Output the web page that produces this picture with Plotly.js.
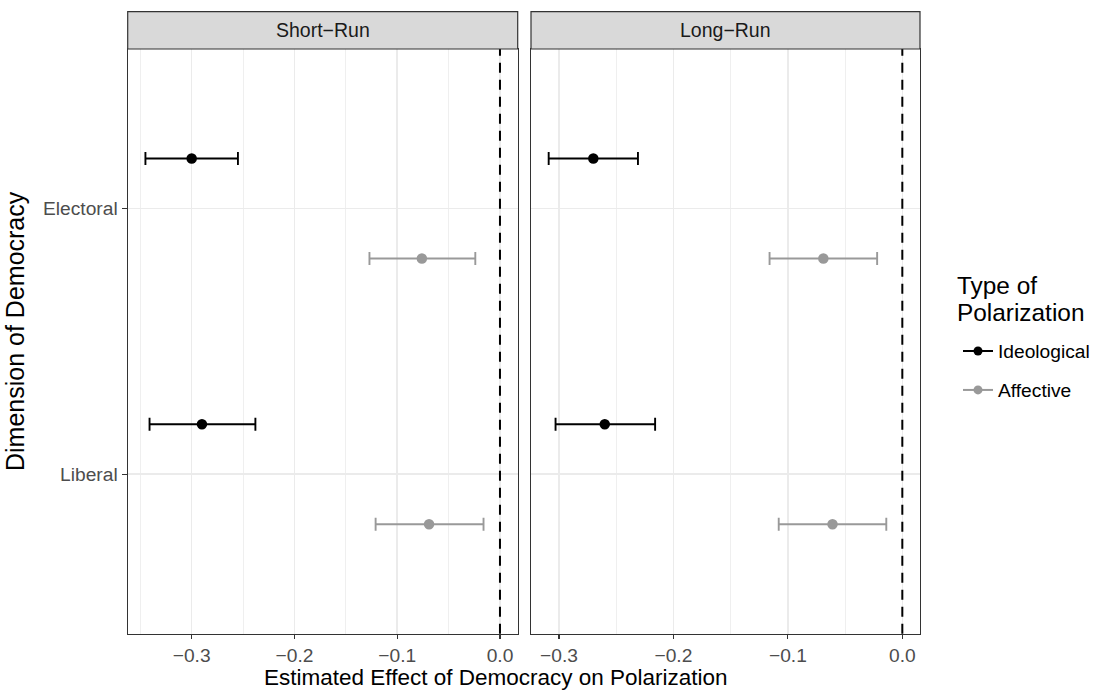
<!DOCTYPE html>
<html>
<head>
<meta charset="utf-8">
<script src="https://cdn.plot.ly/plotly-3.0.1.min.js"></script>
<style>html,body{margin:0;padding:0;background:#fff}#chart{width:1104px;height:690px}</style>
</head>
<body>
<div id="chart"></div>
<script>
// ---- data ----
const dimensions = ['Electoral', 'Liberal'];
const dimensionPos = [2, 1];
const panels = ['Short\u2212Run', 'Long\u2212Run'];
const polarTypes = ['Ideological', 'Affective'];
const legendTitle = ['Type of', 'Polarization'];

// Short-run
const srIdeoEst = [-0.300, -0.290];
const srIdeoLo  = [-0.345, -0.341];
const srIdeoHi  = [-0.255, -0.238];
const srAffEst  = [-0.076, -0.069];
const srAffLo   = [-0.127, -0.121];
const srAffHi   = [-0.024, -0.016];
// Long-run
const lrIdeoEst = [-0.270, -0.260];
const lrIdeoLo  = [-0.309, -0.303];
const lrIdeoHi  = [-0.231, -0.216];
const lrAffEst  = [-0.069, -0.061];
const lrAffLo   = [-0.116, -0.108];
const lrAffHi   = [-0.022, -0.014];

// ---- styling ----
const FONT = 'Liberation Sans, Arial, Helvetica, sans-serif';
const SMALL = 19.2, BIG = 24.4;
const colors = {Ideological: '#000000', Affective: '#999999'};
const dodge = {Ideological: 0.188, Affective: -0.188};
const W = 1104, H = 690;
const px = v => v / W, py = v => 1 - v / H;
const panelX = [[127.7, 517.7], [531, 920]];
const panelTop = 49, panelBot = 633.7, stripTop = 11.7;

function mkTrace(type, est, lo, hi, xa, ya) {
  return {
    type: 'scatter', mode: 'markers',
    x: est, y: dimensionPos.map(p => p + dodge[type]),
    xaxis: xa, yaxis: ya, showlegend: false, hoverinfo: 'x+y',
    marker: {color: colors[type], size: 10.5},
    error_x: {type: 'data', symmetric: false,
      array: hi.map((h, i) => h - est[i]),
      arrayminus: lo.map((l, i) => est[i] - l),
      color: colors[type], thickness: 1.9, width: 6.5}
  };
}

const traces = [
  mkTrace('Ideological', srIdeoEst, srIdeoLo, srIdeoHi, 'x', 'y'),
  mkTrace('Affective', srAffEst, srAffLo, srAffHi, 'x', 'y'),
  mkTrace('Ideological', lrIdeoEst, lrIdeoLo, lrIdeoHi, 'x2', 'y2'),
  mkTrace('Affective', lrAffEst, lrAffLo, lrAffHi, 'x2', 'y2'),
];
polarTypes.forEach((t, i) => traces.push({
  type: 'scatter', mode: 'lines+markers', x: [null], y: [null], name: t,
  legendgroup: 'g' + i, showlegend: true,
  line: {color: colors[t], width: 2}, marker: {color: colors[t], size: 9}
}));

function rangeOf(arrs) {
  const all = [].concat(...arrs, [0]);
  const mn = Math.min(...all), mx = Math.max(...all);
  const e = (mx - mn) * 0.05;
  return [mn - e, mx + e];
}
const r1 = rangeOf([srIdeoLo, srIdeoHi, srAffLo, srAffHi]);
const r2 = rangeOf([lrIdeoLo, lrIdeoHi, lrAffLo, lrAffHi]);

const xBase = {
  tick0: 0, dtick: 0.1, tickformat: '.1f',
  showgrid: true, gridcolor: '#EBEBEB', gridwidth: 1.5,
  minor: {dtick: 0.05, showgrid: true, gridcolor: '#EBEBEB', gridwidth: 0.8, ticks: ''},
  zeroline: false, showline: true, mirror: true, linecolor: '#333333', linewidth: 1.2,
  ticks: 'outside', ticklen: 4.5, tickwidth: 1.2, tickcolor: '#333333',
  tickfont: {family: FONT, size: SMALL, color: '#4D4D4D'},
  fixedrange: true
};
const yBase = {
  range: [0.4, 2.6], tickvals: dimensionPos, ticktext: dimensions,
  domain: [py(panelBot), py(panelTop)],
  showgrid: true, gridcolor: '#EBEBEB', gridwidth: 1.5, zeroline: false,
  showline: true, mirror: true, linecolor: '#333333', linewidth: 1.2,
  ticks: 'outside', ticklen: 5, tickwidth: 1.2, tickcolor: '#333333',
  tickfont: {family: FONT, size: SMALL, color: '#4D4D4D'},
  fixedrange: true
};

const layout = {
  width: W, height: H, margin: {l: 0, r: 0, t: 0, b: 0},
  paper_bgcolor: '#FFFFFF', plot_bgcolor: '#FFFFFF',
  xaxis: Object.assign({}, xBase, {range: r1, domain: [px(panelX[0][0]), px(panelX[0][1])], anchor: 'y'}),
  xaxis2: Object.assign({}, xBase, {range: r2, domain: [px(panelX[1][0]), px(panelX[1][1])], anchor: 'y2'}),
  yaxis: Object.assign({}, yBase, {anchor: 'x'}),
  yaxis2: Object.assign({}, yBase, {anchor: 'x2', matches: 'y', showticklabels: false, ticks: ''}),
  showlegend: true,
  legend: {
    x: px(958), y: py(332), xanchor: 'left', yanchor: 'top',
    font: {family: FONT, size: SMALL, color: '#000'},
    tracegroupgap: 11, itemwidth: 30, bgcolor: 'rgba(0,0,0,0)'
  },
  shapes: [],
  annotations: []
};

// dashed zero lines
['x', 'x2'].forEach((xa, i) => layout.shapes.push({
  type: 'line', xref: xa, yref: (i ? 'y2' : 'y') + ' domain', x0: 0, x1: 0, y0: 0, y1: 1,
  line: {color: '#000', width: 2, dash: '10px,7px'}, layer: 'above'
}));
// strips
panels.forEach((p, i) => {
  layout.shapes.push({
    type: 'rect', xref: 'paper', yref: 'paper',
    x0: px(panelX[i][0]), x1: px(panelX[i][1]), y0: py(panelTop), y1: py(stripTop),
    fillcolor: '#D9D9D9', line: {color: '#333333', width: 1.2}
  });
  layout.annotations.push({
    xref: 'paper', yref: 'paper', x: px((panelX[i][0] + panelX[i][1]) / 2), y: py((panelTop + stripTop) / 2),
    text: p, showarrow: false, xanchor: 'center', yanchor: 'middle',
    font: {family: FONT, size: 19.5, color: '#1A1A1A'}
  });
});
// legend title (two lines)
legendTitle.forEach((t, i) => layout.annotations.push({
  xref: 'paper', yref: 'paper', x: px(955), y: py(285 + 27 * i),
  text: t, showarrow: false, xanchor: 'left', yanchor: 'middle',
  font: {family: FONT, size: BIG, color: '#000'}
}));
// axis titles
layout.annotations.push({
  xref: 'paper', yref: 'paper', x: px(496), y: py(677.5),
  text: 'Estimated Effect of Democracy on Polarization', showarrow: false,
  xanchor: 'center', yanchor: 'middle',
  font: {family: FONT, size: 22.5, color: '#000'}
});
layout.annotations.push({
  xref: 'paper', yref: 'paper', x: px(15), y: py(331),
  text: 'Dimension of Democracy', showarrow: false, textangle: -90,
  xanchor: 'center', yanchor: 'middle',
  font: {family: FONT, size: 25, color: '#000'}
});

Plotly.newPlot('chart', traces, layout, {displayModeBar: false, staticPlot: true});
</script>
</body>
</html>
